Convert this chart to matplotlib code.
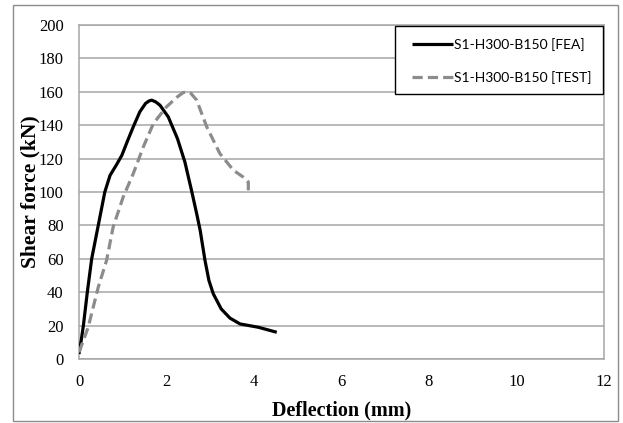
import matplotlib
matplotlib.use('Agg')
import matplotlib.pyplot as plt
from matplotlib.patches import Rectangle

fea_x = [0.0, 0.05, 0.10, 0.19, 0.29, 0.44, 0.59, 0.71, 0.85, 0.98, 1.10, 1.24, 1.39, 1.52, 1.60, 1.66,
         1.75, 1.85, 2.04, 2.25, 2.42, 2.58, 2.69, 2.77, 2.88, 2.97, 3.07, 3.25, 3.45, 3.68, 4.10, 4.52]
fea_y = [3, 11, 20, 40, 60, 80, 100, 110, 116, 122, 130, 139, 148, 153, 154.5, 155,
         154, 152, 145, 132, 118, 100, 87, 77, 59, 47, 39, 30, 24.5, 21, 19, 16]

test_x = [0.0, 0.21, 0.44, 0.63, 0.78, 1.01, 1.24, 1.47, 1.70, 2.00, 2.25, 2.38, 2.46, 2.56, 2.69,
          2.92, 3.22, 3.53, 3.75, 3.87, 3.87]
test_y = [4, 19, 43, 59, 79, 97, 111, 127, 141, 151, 157, 159.5, 160, 159, 155,
          139, 123, 113, 109, 106, 101]

xticks = [0, 2, 4, 6, 8, 10, 12]
yticks = [0, 20, 40, 60, 80, 100, 120, 140, 160, 180, 200]

fig = plt.figure(figsize=(6.23, 4.23), dpi=100)
ax = fig.add_axes([79 / 623, 1 - 359 / 423, 525 / 623, 334 / 423])

grid_c = '#a6a6a6'
ax.plot(fea_x, fea_y, color='black', lw=2.3, solid_capstyle='butt', solid_joinstyle='round',
        label='S1-H300-B150 [FEA]', zorder=3)
ax.plot(test_x, test_y, color='#8c8c8c', lw=2.3, dashes=(3.2, 1.6),
        label='S1-H300-B150 [TEST]', zorder=3)

ax.set_xlim(0, 12)
ax.set_ylim(0, 200)
ax.set_xticks(xticks)
ax.set_yticks(yticks)
ax.tick_params(axis='x', length=0, pad=11, labelsize=12)
ax.tick_params(axis='y', length=0, pad=11, labelsize=12)
for lab in ax.get_xticklabels() + ax.get_yticklabels():
    lab.set_fontfamily('Liberation Serif')
ax.yaxis.grid(True, color=grid_c, lw=1.1)
ax.set_axisbelow(True)
for s in ax.spines.values():
    s.set_color(grid_c)
    s.set_linewidth(1.1)

ax.set_xlabel('Deflection (mm)', fontfamily='Liberation Serif', fontweight='bold',
              fontsize=14.5, labelpad=7)
ax.set_ylabel('Shear force (kN)', fontfamily='Liberation Serif', fontweight='bold',
              fontsize=15.5, va='center')
ax.yaxis.set_label_coords((30.5 - 79) / 525, 0.5)

# legend box drawn by hand so its padding can match
ax.add_patch(Rectangle((395 / 623, 1 - 94 / 423), 208 / 623, 68 / 423,
                       transform=fig.transFigure, facecolor='white', edgecolor='black',
                       lw=1.0, zorder=4, clip_on=False))
leg = ax.legend(loc='upper left', bbox_to_anchor=(412 / 623, 1 - 38 / 423),
                bbox_transform=fig.transFigure, borderaxespad=0, borderpad=0,
                frameon=False, labelspacing=1.45, handlelength=2.95, handletextpad=0.1,
                prop={'family': ['Lato', 'DejaVu Sans'], 'size': 10})
leg.set_zorder(5)

# outer chart border
fig.patches.append(Rectangle((13 / 623, 1 - 421 / 423), 605 / 623, 416 / 423,
                             transform=fig.transFigure, fill=False, edgecolor='#8c8c8c', lw=1.0))

fig.savefig('out.png', dpi=100)
